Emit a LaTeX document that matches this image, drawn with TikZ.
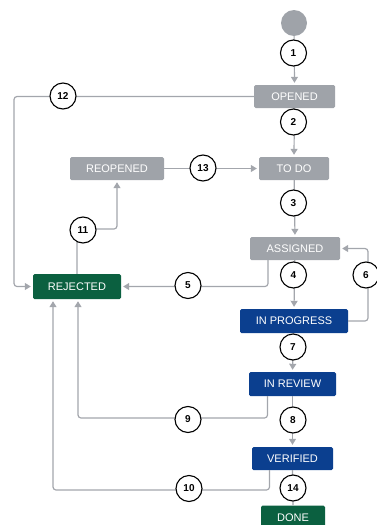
\documentclass[tikz,border=0pt]{standalone}
\usepackage{fontspec}
\setmainfont{Liberation Sans}
\usetikzlibrary{arrows.meta}
\definecolor{lgray}{HTML}{A3A6AC}
\definecolor{boxgray}{HTML}{9FA3A9}
\definecolor{jblue}{HTML}{0B3F8F}
\definecolor{jgreen}{HTML}{0B6040}
\begin{document}
\begin{tikzpicture}[x=1pt,y=-1pt,
  state/.style={rectangle, rounded corners=1.5pt, text=white, inner sep=0pt,
    font=\fontsize{11}{12}\selectfont},
  graystate/.style={state, fill=boxgray},
  bluestate/.style={state, fill=jblue},
  greenstate/.style={state, fill=jgreen},
  num/.style={circle, draw=black, line width=1.1pt, fill=white, minimum size=26pt,
    inner sep=0pt, font=\bfseries\fontsize{10}{11}\selectfont},
  conn/.style={draw=lgray, line width=1.2pt, rounded corners=3pt},
  arr/.style={conn, -{Triangle[width=7pt,length=6pt]}, shorten >=2pt}
]
\useasboundingbox (0,0) rectangle (376,525);
% states
\node[circle, fill=boxgray, minimum size=26pt, inner sep=0pt] (start) at (294,23) {};
\node[graystate, minimum width=81pt, minimum height=23pt] (opened) at (294.5,96.5) {OPENED};
\node[graystate, minimum width=70pt, minimum height=23pt] (todo) at (294,168.5) {TO DO};
\node[graystate, minimum width=94pt, minimum height=23pt] (reopened) at (117,168.5) {REOPENED};
\node[graystate, minimum width=90pt, minimum height=23pt] (assigned) at (295,248.5) {ASSIGNED};
\node[bluestate, minimum width=108pt, minimum height=24pt] (inprogress) at (294,321) {IN PROGRESS};
\node[greenstate, minimum width=88pt, minimum height=25pt] (rejected) at (77,286.5) {REJECTED};
\node[bluestate, minimum width=87pt, minimum height=24pt] (inreview) at (292.5,384) {IN REVIEW};
\node[bluestate, minimum width=81pt, minimum height=23pt] (verified) at (292.5,458.5) {VERIFIED};
\node[greenstate, minimum width=64pt, minimum height=24pt] (done) at (293,517.5) {DONE};
% corner coordinates
\coordinate (k12) at (14,96.5);
\coordinate (k11) at (77,229);
\coordinate (k6) at (368,321);
\coordinate (k9) at (78,418);
\coordinate (k10) at (53,490);
% connectors
\draw[arr] (start) -- (opened.north);
\draw[arr] (opened) -- (todo.north);
\draw[arr] (todo) -- (assigned.north);
\draw[arr] (assigned) -- (inprogress.north);
\draw[arr] (inprogress) -- (inreview.north);
\draw[arr] (inreview) -- (verified.north);
\draw[conn] (verified.south) -- (done.north);
\draw[arr] (opened.west) -- (k12) |- (rejected.west);
\draw[arr] (reopened.east) -- (todo.west);
\draw[arr] (inprogress.east) -- (k6) |- (assigned.east);
\draw[arr] ([xshift=-27pt]assigned.south) |- (rejected.east);
\draw[arr] (rejected.north) -- (k11) -| (reopened.south);
\draw[arr] ([xshift=-25pt]inreview.south) |- (k9) -- ([xshift=1pt]rejected.south);
\draw[arr] ([xshift=-23pt]verified.south) |- (k10) -- ([xshift=-24pt]rejected.south);
% number circles
\node[num] (c1) at (293.5,53) {1};
\node[num] (c2) at (293.5,122) {2};
\node[num] (c3) at (293.5,203) {3};
\node[num] (c4) at (293.5,275) {4};
\node[num] (c5) at (188,285.5) {5};
\node[num] (c6) at (366,275) {6};
\node[num] (c7) at (293,347) {7};
\node[num] (c8) at (293,420) {8};
\node[num] (c9) at (188,419.5) {9};
\node[num] (c10) at (189,488.5) {10};
\node[num] (c11) at (83,230) {11};
\node[num] (c12) at (63,96) {12};
\node[num] (c13) at (203,168) {13};
\node[num] (c14) at (293,488) {14};
\end{tikzpicture}
\end{document}
